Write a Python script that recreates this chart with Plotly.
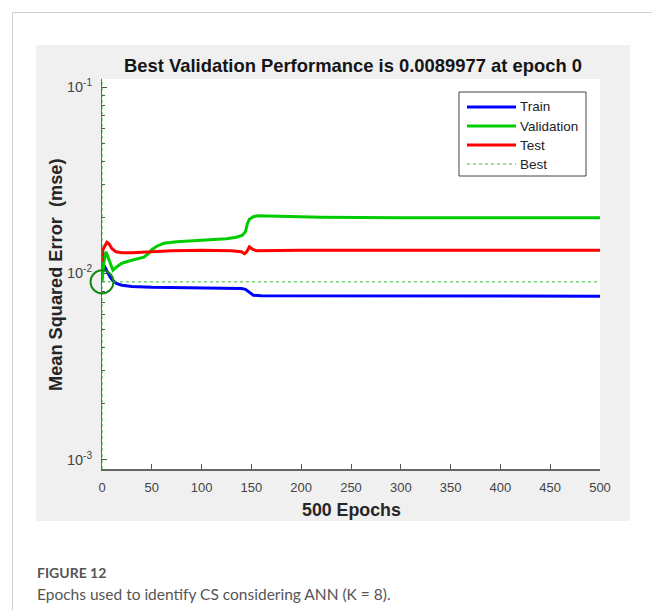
import plotly.graph_objects as go

# ---------------- data ----------------
train_epochs = [0, 2, 5, 8, 11, 15, 20, 30, 50, 100, 140, 144, 148, 152, 160, 200, 300, 500]
train_mse = [0.01154, 0.01099, 0.0102, 0.00959, 0.00913, 0.00879, 0.00863, 0.0085, 0.00842,
             0.00832, 0.00829, 0.0082, 0.00787, 0.00763, 0.00757, 0.00757, 0.00754, 0.00754]

val_epochs = [0, 2, 4, 6, 8, 11, 15, 20, 28, 35, 42, 46, 50, 55, 62, 75, 90, 110, 125, 135,
              141, 144, 146, 148, 152, 156, 180, 220, 300, 400, 500]
val_mse = [0.0089977, 0.01154, 0.01305, 0.01213, 0.01126, 0.01039, 0.01085, 0.01133, 0.01168,
           0.0119, 0.0122, 0.01266, 0.01339, 0.01398, 0.0145, 0.01477, 0.01496, 0.01515,
           0.01534, 0.01562, 0.01601, 0.01672, 0.01845, 0.01951, 0.02012, 0.02037, 0.02025,
           0.0200, 0.01988, 0.01988, 0.01988]

test_epochs = [0, 1, 3, 5, 7, 10, 14, 20, 30, 45, 70, 100, 130, 140, 143, 145, 148, 151, 155,
               200, 300, 500]
test_mse = [0.01154, 0.01339, 0.01406, 0.01469, 0.01442, 0.01355, 0.01305, 0.0129, 0.0129,
            0.01305, 0.01322, 0.0133, 0.01322, 0.01305, 0.01274, 0.01297, 0.01389, 0.01347,
            0.01322, 0.0133, 0.0133, 0.0133]

best_epoch = 0
best_perf = 0.0089977
n_epochs = 500

series_names = ["Train", "Validation", "Test", "Best"]
series_colors = ["#0000ff", "#00cc00", "#ff0000", "#33bb33"]

y_tick_vals = [0.001, 0.01, 0.1]
y_tick_text = ["10<sup>-3</sup>", "10<sup>-2</sup>", "10<sup>-1</sup>"]
x_tick_vals = [0, 50, 100, 150, 200, 250, 300, 350, 400, 450, 500]

# ---------------- layout helpers ----------------
W, H = 652, 610
L, R, T, B = 102, 600, 79, 469          # plot area in pixels
Y_RANGE = [-3.0504, -0.957]


def px(x):
    return (x - L) / (R - L)


def py(y):
    return (B - y) / (B - T)


FONT = "Liberation Sans, Arial, Helvetica, sans-serif"
CAP_FONT = "Lato, Noto Sans, sans-serif"

fig = go.Figure()

fig.add_trace(go.Scatter(x=train_epochs, y=train_mse, mode="lines", name=series_names[0],
                         line=dict(color=series_colors[0], width=3)))
fig.add_trace(go.Scatter(x=val_epochs, y=val_mse, mode="lines", name=series_names[1],
                         line=dict(color=series_colors[1], width=3)))
fig.add_trace(go.Scatter(x=test_epochs, y=test_mse, mode="lines", name=series_names[2],
                         line=dict(color=series_colors[2], width=3)))

ymin, ymax = 10 ** Y_RANGE[0], 10 ** Y_RANGE[1]
fig.add_trace(go.Scatter(
    x=[best_epoch, best_epoch, None, 0, n_epochs],
    y=[ymin, ymax, None, best_perf, best_perf],
    mode="lines", name=series_names[3], cliponaxis=False,
    line=dict(color=series_colors[3], width=1, dash="dot")))
fig.add_trace(go.Scatter(
    x=[best_epoch], y=[best_perf], mode="markers", showlegend=False, cliponaxis=False,
    marker=dict(symbol="circle-open", size=23, color="#108a10", line=dict(width=2, color="#108a10"))))

shapes = [
    # page frame lines
    dict(type="line", xref="paper", yref="paper", x0=px(12.5), x1=px(W), y0=py(12.5), y1=py(12.5),
         line=dict(color="#cfcfcf", width=1), layer="below"),
    dict(type="line", xref="paper", yref="paper", x0=px(12.5), x1=px(12.5), y0=py(12.5), y1=py(H),
         line=dict(color="#cfcfcf", width=1), layer="below"),
    # MATLAB grey figure panel
    dict(type="rect", xref="paper", yref="paper", x0=px(36), x1=px(630), y0=py(45), y1=py(521),
         fillcolor="#f0f0f0", line=dict(width=0), layer="below"),
    # white axes area
    dict(type="rect", xref="paper", yref="paper", x0=0, x1=1, y0=0, y1=1,
         fillcolor="#ffffff", line=dict(width=0), layer="below"),
    # legend box
    dict(type="rect", xref="paper", yref="paper", x0=px(459), x1=px(586), y0=py(92), y1=py(176),
         fillcolor="#ffffff", line=dict(color="#444444", width=1), layer="above"),
]

annotations = [
    dict(text="<b>Mean Squared Error  (mse)</b>", xref="paper", yref="paper", x=px(56), y=py(275),
         textangle=-90, showarrow=False, xanchor="center", yanchor="middle",
         font=dict(family=FONT, size=18.2, color="#262626")),
    dict(text="<b>500 Epochs</b>", xref="paper", yref="paper", x=0.5, y=py(510),
         showarrow=False, xanchor="center", yanchor="middle",
         font=dict(family=FONT, size=17.8, color="#262626")),
    dict(text="<b>FIGURE 12</b>", xref="paper", yref="paper", x=px(35), y=py(572),
         showarrow=False, xanchor="left", yanchor="middle",
         font=dict(family=CAP_FONT, size=14, color="#555555")),
    dict(text="Epochs used to identify CS considering ANN (K = 8).", xref="paper", yref="paper",
         x=px(35), y=py(594), showarrow=False, xanchor="left", yanchor="middle",
         font=dict(family=CAP_FONT, size=15.5, color="#555555")),
]

# legend entries (drawn by hand to match the MATLAB legend look)
row_y = [107, 126, 145, 164]
for name, color, ry in zip(series_names, series_colors, row_y):
    is_best = name == "Best"
    shapes.append(dict(type="line", xref="paper", yref="paper", x0=px(467), x1=px(516),
                       y0=py(ry), y1=py(ry), layer="above",
                       line=dict(color=color, width=1 if is_best else 3,
                                 dash="dot" if is_best else "solid")))
    annotations.append(dict(text=name, xref="paper", yref="paper", x=px(518), y=py(ry),
                            showarrow=False, xanchor="left", yanchor="middle",
                            font=dict(family=FONT, size=13.5, color="#222222")))

fig.update_layout(
    width=W, height=H,
    margin=dict(l=L, r=W - R, t=T, b=H - B, pad=0),
    paper_bgcolor="#ffffff", plot_bgcolor="#ffffff",
    showlegend=False,
    title=dict(text="<b>Best Validation Performance is 0.0089977 at epoch 0</b>",
               xref="paper", x=px(353), xanchor="center",
               yref="container", y=1 - 66 / H, yanchor="middle",
               font=dict(family=FONT, size=18.4, color="#151515")),
    font=dict(family=FONT, color="#444444"),
    shapes=shapes, annotations=annotations,
)

fig.update_xaxes(range=[0, n_epochs], tickvals=x_tick_vals, ticks="inside", ticklen=5,
                 tickcolor="#555555", showline=True, linecolor="#666666", linewidth=1.5,
                 showgrid=False, zeroline=False, layer="below traces", ticklabelstandoff=6,
                 tickfont=dict(family=FONT, size=13, color="#444444"))
fig.update_yaxes(type="log", range=Y_RANGE, tickvals=y_tick_vals, ticktext=y_tick_text,
                 ticks="inside", ticklen=5, tickcolor="#555555", showline=True,
                 linecolor="#666666", linewidth=1, showgrid=False, zeroline=False,
                 layer="below traces", ticklabelstandoff=6,
                 minor=dict(ticks="inside", ticklen=3, tickcolor="#555555", showgrid=False,
                            tickvals=[m * d for d in (0.001, 0.01) for m in range(2, 10)]),
                 tickfont=dict(family=FONT, size=14.5, color="#444444"))

fig.write_html("out.html")
